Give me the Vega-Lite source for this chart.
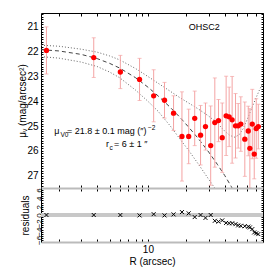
{
  "$schema": "https://vega.github.io/schema/vega-lite/v6.json",
  "padding": {"left": 17, "top": 9, "right": 6, "bottom": 2},
  "spacing": 0,
  "bounds": "flush",
  "config": {
    "view": {"stroke": null},
    "font": "Liberation Sans",
    "axis": {"grid": false, "domainColor": "#000", "tickColor": "#000", "labelColor": "#000", "titleColor": "#000", "labelFont": "Liberation Sans", "titleFont": "Liberation Sans", "labelFontSize": 10, "titleFontSize": 10, "titleFontWeight": "normal", "labelOverlap": false, "labelFlush": false, "domainWidth": 1, "tickWidth": 1}
  },
  "datasets": {
    "pts": [
      {"R": 1.60, "mu": 21.95, "lo": 21.00, "hi": 22.90},
      {"R": 3.76, "mu": 22.24, "lo": 21.44, "hi": 23.04},
      {"R": 6.08, "mu": 22.82, "lo": 22.15, "hi": 23.49},
      {"R": 8.6, "mu": 23.12, "lo": 22.27, "hi": 23.97},
      {"R": 11.1, "mu": 23.78, "lo": 22.73, "hi": 24.83},
      {"R": 13.5, "mu": 23.96, "lo": 23.24, "hi": 24.68},
      {"R": 15.9, "mu": 24.48, "lo": 23.78, "hi": 25.18},
      {"R": 18.5, "mu": 25.42, "lo": 23.62, "hi": 27.22},
      {"R": 20.9, "mu": 25.42, "lo": 24.32, "hi": 26.52},
      {"R": 23.3, "mu": 24.69, "lo": 23.59, "hi": 25.79},
      {"R": 25.9, "mu": 25.37, "lo": 24.17, "hi": 26.57},
      {"R": 28.3, "mu": 25.02, "lo": 24.07, "hi": 25.97},
      {"R": 31.1, "mu": 25.79, "lo": 24.19, "hi": 27.39},
      {"R": 33.5, "mu": 24.86, "lo": 23.06, "hi": 26.66},
      {"R": 35.8, "mu": 24.78, "lo": 23.93, "hi": 25.63},
      {"R": 38.3, "mu": 25.47, "lo": 24.07, "hi": 26.87},
      {"R": 41.1, "mu": 24.59, "lo": 22.99, "hi": 26.19},
      {"R": 43.4, "mu": 24.63, "lo": 23.43, "hi": 25.83},
      {"R": 45.8, "mu": 24.75, "lo": 23.00, "hi": 26.50},
      {"R": 48.7, "mu": 24.99, "lo": 23.69, "hi": 26.29},
      {"R": 51.1, "mu": 24.99, "lo": 24.09, "hi": 25.89},
      {"R": 53.6, "mu": 24.92, "lo": 23.82, "hi": 26.02},
      {"R": 57.6, "mu": 25.53, "lo": 24.03, "hi": 27.03},
      {"R": 61.3, "mu": 25.20, "lo": 24.20, "hi": 26.20},
      {"R": 63.1, "mu": 25.90, "lo": 24.30, "hi": 27.50},
      {"R": 65.9, "mu": 24.92, "lo": 23.52, "hi": 26.32},
      {"R": 68.3, "mu": 26.13, "lo": 25.13, "hi": 27.13},
      {"R": 70.8, "mu": 25.10, "lo": 23.90, "hi": 26.30},
      {"R": 73.5, "mu": 25.02, "lo": 24.12, "hi": 25.92}
    ],
    "dashed": [
      {"R": 1.45, "mu": 21.92}, {"R": 2, "mu": 21.97}, {"R": 3, "mu": 22.11}, {"R": 4, "mu": 22.28},
      {"R": 5, "mu": 22.47}, {"R": 6, "mu": 22.66}, {"R": 8, "mu": 23.05}, {"R": 10, "mu": 23.43},
      {"R": 12, "mu": 23.78}, {"R": 15, "mu": 24.25}, {"R": 18, "mu": 24.67}, {"R": 21, "mu": 25.06},
      {"R": 25, "mu": 25.52}, {"R": 30, "mu": 26.05}, {"R": 35, "mu": 26.54}, {"R": 40, "mu": 26.99},
      {"R": 45, "mu": 27.43}, {"R": 50, "mu": 27.87}
    ],
    "dotted": [
      {"curve": "upper", "R": 1.45, "mu": 21.74}, {"curve": "upper", "R": 2, "mu": 21.78},
      {"curve": "upper", "R": 3, "mu": 21.9}, {"curve": "upper", "R": 4, "mu": 22.02},
      {"curve": "upper", "R": 5, "mu": 22.17}, {"curve": "upper", "R": 6, "mu": 22.33},
      {"curve": "upper", "R": 8, "mu": 22.68}, {"curve": "upper", "R": 10, "mu": 23.0},
      {"curve": "upper", "R": 12, "mu": 23.27}, {"curve": "upper", "R": 15, "mu": 23.6},
      {"curve": "upper", "R": 18, "mu": 23.87}, {"curve": "upper", "R": 21, "mu": 24.08},
      {"curve": "upper", "R": 25, "mu": 24.32}, {"curve": "upper", "R": 30, "mu": 24.6},
      {"curve": "upper", "R": 35, "mu": 24.88}, {"curve": "upper", "R": 40, "mu": 25.2},
      {"curve": "upper", "R": 44, "mu": 25.38}, {"curve": "upper", "R": 48, "mu": 25.45},
      {"curve": "upper", "R": 52, "mu": 25.35}, {"curve": "upper", "R": 56, "mu": 25.1},
      {"curve": "upper", "R": 60, "mu": 24.75}, {"curve": "upper", "R": 65, "mu": 24.3},
      {"curve": "upper", "R": 70, "mu": 23.9}, {"curve": "upper", "R": 75, "mu": 23.55},
      {"curve": "upper", "R": 80, "mu": 23.25},
      {"curve": "lower", "R": 1.45, "mu": 22.2}, {"curve": "lower", "R": 2, "mu": 22.26},
      {"curve": "lower", "R": 3, "mu": 22.42}, {"curve": "lower", "R": 4, "mu": 22.6},
      {"curve": "lower", "R": 5, "mu": 22.82}, {"curve": "lower", "R": 6, "mu": 23.05},
      {"curve": "lower", "R": 8, "mu": 23.55}, {"curve": "lower", "R": 10, "mu": 24.0},
      {"curve": "lower", "R": 12, "mu": 24.4}, {"curve": "lower", "R": 15, "mu": 25.0},
      {"curve": "lower", "R": 18, "mu": 25.55}, {"curve": "lower", "R": 21, "mu": 26.0},
      {"curve": "lower", "R": 25, "mu": 26.55}, {"curve": "lower", "R": 30, "mu": 27.15},
      {"curve": "lower", "R": 35, "mu": 27.65}, {"curve": "lower", "R": 40, "mu": 28.2}
    ],
    "res": [
      {"R": 1.60, "res": 0}, {"R": 3.76, "res": 0}, {"R": 6.08, "res": 0}, {"R": 8.6, "res": -0.1},
      {"R": 11.1, "res": 0.2}, {"R": 13.5, "res": -0.1}, {"R": 15.9, "res": 0.15}, {"R": 18.5, "res": 0.7},
      {"R": 20.9, "res": 0.4}, {"R": 23.3, "res": -0.5}, {"R": 25.9, "res": 0}, {"R": 28.3, "res": -0.7},
      {"R": 31.1, "res": 0}, {"R": 33.5, "res": -1.4}, {"R": 35.8, "res": -1.6}, {"R": 38.3, "res": -1.3},
      {"R": 41.1, "res": -1.9}, {"R": 43.4, "res": -2.0}, {"R": 45.8, "res": -2.0}, {"R": 48.7, "res": -2.2},
      {"R": 51.1, "res": -2.5}, {"R": 53.6, "res": -2.6}, {"R": 57.6, "res": -2.7}, {"R": 61.3, "res": -2.8},
      {"R": 63.1, "res": -3.0}, {"R": 65.9, "res": -3.4}, {"R": 68.3, "res": -4.2}, {"R": 70.8, "res": -4.4},
      {"R": 73.5, "res": -4.6}
    ]
  },
  "vconcat": [
    {
      "width": 222,
      "height": 175,
      "resolve": {"axis": {"x": "independent", "y": "independent"}},
      "layer": [
        {
          "data": {"name": "dotted"},
          "mark": {"type": "line", "strokeDash": [1, 2], "color": "#666", "strokeWidth": 1, "clip": true},
          "encoding": {
            "x": {"field": "R", "type": "quantitative", "scale": {"type": "log", "domain": [1.45, 80], "nice": false}, "axis": null},
            "y": {"field": "mu", "type": "quantitative", "scale": {"domain": [20.44, 27.5], "reverse": true, "nice": false, "zero": false}, "axis": null},
            "detail": {"field": "curve"}
          }
        },
        {
          "data": {"name": "dashed"},
          "mark": {"type": "line", "strokeDash": [4, 3], "color": "#444", "strokeWidth": 1, "clip": true},
          "encoding": {
            "x": {"field": "R", "type": "quantitative", "scale": {"type": "log", "domain": [1.45, 80], "nice": false}, "axis": null},
            "y": {"field": "mu", "type": "quantitative", "scale": {"domain": [20.44, 27.5], "reverse": true, "nice": false, "zero": false}, "axis": null}
          }
        },
        {
          "data": {"name": "pts"},
          "mark": {"type": "rule", "color": "#f4a3a3", "strokeWidth": 1, "clip": true},
          "encoding": {
            "x": {"field": "R", "type": "quantitative", "scale": {"type": "log", "domain": [1.45, 80], "nice": false},
              "axis": {"orient": "top", "title": null, "labels": false, "values": [2,3,4,5,6,7,8,9,10,20,30,40,50,60,70,80], "tickSize": -3}},
            "y": {"field": "lo", "type": "quantitative", "scale": {"domain": [20.44, 27.5], "reverse": true, "nice": false, "zero": false},
              "axis": {"orient": "right", "title": null, "labels": false, "tickSize": -2,
                "values": [20.5,20.6,20.7,20.8,20.9,21,21.1,21.2,21.3,21.4,21.5,21.6,21.7,21.8,21.9,22,22.1,22.2,22.3,22.4,22.5,22.6,22.7,22.8,22.9,23,23.1,23.2,23.3,23.4,23.5,23.6,23.7,23.8,23.9,24,24.1,24.2,24.3,24.4,24.5,24.6,24.7,24.8,24.9,25,25.1,25.2,25.3,25.4,25.5,25.6,25.7,25.8,25.9,26,26.1,26.2,26.3,26.4,26.5,26.6,26.7,26.8,26.9,27,27.1,27.2,27.3,27.4,27.5]}},
            "y2": {"field": "hi"}
          }
        },
        {
          "data": {"name": "pts"},
          "mark": {"type": "tick", "orient": "horizontal", "size": 4, "thickness": 1, "color": "#f4a3a3", "clip": true},
          "encoding": {
            "x": {"field": "R", "type": "quantitative", "scale": {"type": "log", "domain": [1.45, 80], "nice": false}, "axis": null},
            "y": {"field": "lo", "type": "quantitative", "scale": {"domain": [20.44, 27.5], "reverse": true, "nice": false, "zero": false}, "axis": null}
          }
        },
        {
          "data": {"name": "pts"},
          "mark": {"type": "tick", "orient": "horizontal", "size": 4, "thickness": 1, "color": "#f4a3a3", "clip": true},
          "encoding": {
            "x": {"field": "R", "type": "quantitative", "scale": {"type": "log", "domain": [1.45, 80], "nice": false}, "axis": null},
            "y": {"field": "hi", "type": "quantitative", "scale": {"domain": [20.44, 27.5], "reverse": true, "nice": false, "zero": false}, "axis": null}
          }
        },
        {
          "data": {"name": "pts"},
          "mark": {"type": "circle", "size": 28, "color": "#ff0000", "opacity": 1},
          "encoding": {
            "x": {"field": "R", "type": "quantitative", "scale": {"type": "log", "domain": [1.45, 80], "nice": false},
              "axis": {"orient": "bottom", "title": null, "labels": false, "values": [2,3,4,5,6,7,8,9,10,20,30,40,50,60,70,80], "tickSize": -3}},
            "y": {"field": "mu", "type": "quantitative", "scale": {"domain": [20.44, 27.5], "reverse": true, "nice": false, "zero": false},
              "axis": {"orient": "left", "title": "μᵥ (mag/arcsec²)", "titlePadding": -1, "labelPadding": 5, "tickSize": -2,
                "labelExpr": "abs(datum.value - round(datum.value)) < 0.01 ? format(datum.value, 'd') : ''",
                "values": [20.5,20.6,20.7,20.8,20.9,21,21.1,21.2,21.3,21.4,21.5,21.6,21.7,21.8,21.9,22,22.1,22.2,22.3,22.4,22.5,22.6,22.7,22.8,22.9,23,23.1,23.2,23.3,23.4,23.5,23.6,23.7,23.8,23.9,24,24.1,24.2,24.3,24.4,24.5,24.6,24.7,24.8,24.9,25,25.1,25.2,25.3,25.4,25.5,25.6,25.7,25.8,25.9,26,26.1,26.2,26.3,26.4,26.5,26.6,26.7,26.8,26.9,27,27.1,27.2,27.3,27.4,27.5]}}
          }
        },
        {
          "data": {"values": [{}]},
          "mark": {"type": "text", "text": "OHSC2", "fontSize": 9, "align": "center", "baseline": "middle", "font": "Liberation Sans"},
          "encoding": {
            "x": {"datum": 27.7, "type": "quantitative", "scale": {"type": "log", "domain": [1.45, 80], "nice": false}, "axis": null},
            "y": {"datum": 21.0, "type": "quantitative", "scale": {"domain": [20.44, 27.5], "reverse": true, "nice": false, "zero": false}, "axis": null}
          }
        },
        {
          "data": {"values": [{}]},
          "mark": {"type": "text", "text": "μ", "fontSize": 9, "align": "left", "baseline": "alphabetic", "font": "Liberation Sans"},
          "encoding": {
            "x": {"datum": 1.84, "type": "quantitative", "scale": {"type": "log", "domain": [1.45, 80], "nice": false}, "axis": null},
            "y": {"datum": 25.34, "type": "quantitative", "scale": {"domain": [20.44, 27.5], "reverse": true, "nice": false, "zero": false}, "axis": null}
          }
        },
        {
          "data": {"values": [{}]},
          "mark": {"type": "text", "text": "V0", "fontSize": 6.5, "align": "left", "baseline": "alphabetic", "font": "Liberation Sans"},
          "encoding": {
            "x": {"datum": 2.06, "type": "quantitative", "scale": {"type": "log", "domain": [1.45, 80], "nice": false}, "axis": null},
            "y": {"datum": 25.44, "type": "quantitative", "scale": {"domain": [20.44, 27.5], "reverse": true, "nice": false, "zero": false}, "axis": null}
          }
        },
        {
          "data": {"values": [{}]},
          "mark": {"type": "text", "text": "= 21.8 ± 0.1 mag (″)", "fontSize": 9, "align": "left", "baseline": "alphabetic", "font": "Liberation Sans"},
          "encoding": {
            "x": {"datum": 2.32, "type": "quantitative", "scale": {"type": "log", "domain": [1.45, 80], "nice": false}, "axis": null},
            "y": {"datum": 25.34, "type": "quantitative", "scale": {"domain": [20.44, 27.5], "reverse": true, "nice": false, "zero": false}, "axis": null}
          }
        },
        {
          "data": {"values": [{}]},
          "mark": {"type": "text", "text": "−2", "fontSize": 6.5, "align": "left", "baseline": "alphabetic", "font": "Liberation Sans"},
          "encoding": {
            "x": {"datum": 10.0, "type": "quantitative", "scale": {"type": "log", "domain": [1.45, 80], "nice": false}, "axis": null},
            "y": {"datum": 25.18, "type": "quantitative", "scale": {"domain": [20.44, 27.5], "reverse": true, "nice": false, "zero": false}, "axis": null}
          }
        },
        {
          "data": {"values": [{}]},
          "mark": {"type": "text", "text": "r", "fontSize": 9, "align": "left", "baseline": "alphabetic", "font": "Liberation Sans"},
          "encoding": {
            "x": {"datum": 4.70, "type": "quantitative", "scale": {"type": "log", "domain": [1.45, 80], "nice": false}, "axis": null},
            "y": {"datum": 25.86, "type": "quantitative", "scale": {"domain": [20.44, 27.5], "reverse": true, "nice": false, "zero": false}, "axis": null}
          }
        },
        {
          "data": {"values": [{}]},
          "mark": {"type": "text", "text": "c", "fontSize": 6.5, "align": "left", "baseline": "alphabetic", "font": "Liberation Sans"},
          "encoding": {
            "x": {"datum": 5.0, "type": "quantitative", "scale": {"type": "log", "domain": [1.45, 80], "nice": false}, "axis": null},
            "y": {"datum": 25.96, "type": "quantitative", "scale": {"domain": [20.44, 27.5], "reverse": true, "nice": false, "zero": false}, "axis": null}
          }
        },
        {
          "data": {"values": [{}]},
          "mark": {"type": "text", "text": "= 6 ± 1 ″", "fontSize": 9, "align": "left", "baseline": "alphabetic", "font": "Liberation Sans"},
          "encoding": {
            "x": {"datum": 5.43, "type": "quantitative", "scale": {"type": "log", "domain": [1.45, 80], "nice": false}, "axis": null},
            "y": {"datum": 25.86, "type": "quantitative", "scale": {"domain": [20.44, 27.5], "reverse": true, "nice": false, "zero": false}, "axis": null}
          }
        }
      ]
    },
    {
      "width": 222,
      "height": 54,
      "data": {"name": "res"},
      "resolve": {"axis": {"x": "independent", "y": "independent"}},
      "layer": [
        {
          "mark": {"type": "rule", "color": "#c8c8c8", "strokeWidth": 2.5},
          "encoding": {
            "y": {"datum": 0, "type": "quantitative", "scale": {"domain": [-6.5, 6.5], "nice": false, "zero": false}, "axis": null}
          }
        },
        {
          "mark": {"type": "point", "shape": "M-1,-1L1,1M-1,1L1,-1", "filled": false, "size": 16, "stroke": "#000", "strokeWidth": 1, "opacity": 1},
          "encoding": {
            "x": {"field": "R", "type": "quantitative", "scale": {"type": "log", "domain": [1.45, 80], "nice": false},
              "axis": {"orient": "bottom", "title": "R (arcsec)", "titlePadding": 2, "labelPadding": 5, "values": [2,3,4,5,6,7,8,9,10,20,30,40,50,60,70,80], "tickSize": -3,
                "labelExpr": "datum.value == 10 ? '10' : ''", "domainColor": "#bbb", "domainWidth": 2}},
            "y": {"field": "res", "type": "quantitative", "scale": {"domain": [-6.5, 6.5], "nice": false, "zero": false},
              "axis": {"orient": "left", "title": "residuals", "titlePadding": 5, "labelPadding": 0, "tickSize": -2, "labelFontSize": 8, "labelAngle": 270,
                "labelExpr": "datum.value % 2 == 0 ? format(datum.value, 'd') : ''",
                "values": [-6,-5.5,-5,-4.5,-4,-3.5,-3,-2.5,-2,-1.5,-1,-0.5,0,0.5,1,1.5,2,2.5,3,3.5,4,4.5,5,5.5,6]}}
          }
        },
        {
          "mark": {"type": "point", "opacity": 0},
          "encoding": {
            "x": {"field": "R", "type": "quantitative", "scale": {"type": "log", "domain": [1.45, 80], "nice": false},
              "axis": {"orient": "top", "title": null, "labels": false, "values": [2,3,4,5,6,7,8,9,10,20,30,40,50,60,70,80], "tickSize": -3, "domainColor": "#bbb", "domainWidth": 2}},
            "y": {"field": "res", "type": "quantitative", "scale": {"domain": [-6.5, 6.5], "nice": false, "zero": false},
              "axis": {"orient": "right", "title": null, "labels": false, "tickSize": -2,
                "values": [-6,-5.5,-5,-4.5,-4,-3.5,-3,-2.5,-2,-1.5,-1,-0.5,0,0.5,1,1.5,2,2.5,3,3.5,4,4.5,5,5.5,6]}}
          }
        }
      ]
    }
  ]
}
